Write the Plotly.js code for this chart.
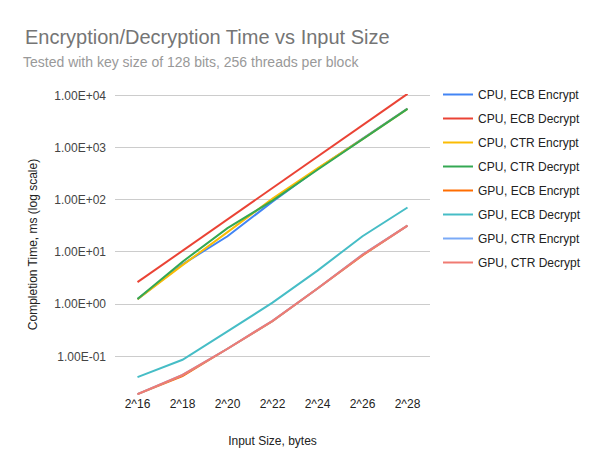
<!DOCTYPE html>
<html>
<head>
<meta charset="utf-8">
<script src="https://cdn.plot.ly/plotly-3.0.1.min.js"></script>
<style>html,body{margin:0;padding:0;background:#fff;}#chart{width:600px;height:471px;}</style>
</head>
<body>
<div id="chart"></div>
<script>
// Categories (input sizes)
var inputSizes = ['2^16', '2^18', '2^20', '2^22', '2^24', '2^26', '2^28'];

// Series values (completion time, ms)
var cpuEcbEncrypt = [1.25, 5.8, 20, 92, 390, 1450, 5600];
var cpuEcbDecrypt = [2.64, 10.5, 42, 167, 680, 2700, 10700];
var cpuCtrEncrypt = [1.24, 5.6, 24, 105, 400, 1450, 5500];
var cpuCtrDecrypt = [1.26, 6.5, 28.6, 96, 375, 1420, 5500];
var gpuEcbEncrypt = [0.0189, 0.042, 0.14, 0.47, 2.0, 8.6, 32];
var gpuEcbDecrypt = [0.040, 0.086, 0.30, 1.07, 4.4, 20, 71];
var gpuCtrEncrypt = [0.0189, 0.044, 0.14, 0.48, 2.0, 8.9, 32];
var gpuCtrDecrypt = [0.0189, 0.044, 0.14, 0.48, 2.0, 8.8, 32];

var seriesNames = ['CPU, ECB Encrypt', 'CPU, ECB Decrypt', 'CPU, CTR Encrypt', 'CPU, CTR Decrypt',
                   'GPU, ECB Encrypt', 'GPU, ECB Decrypt', 'GPU, CTR Encrypt', 'GPU, CTR Decrypt'];

// Y tick labels
var yTickVals = [0.1, 1, 10, 100, 1000, 10000];
var yTickText = ['1.00E-01', '1.00E+00', '1.00E+01', '1.00E+02', '1.00E+03', '1.00E+04'];

var seriesValues = [cpuEcbEncrypt, cpuEcbDecrypt, cpuCtrEncrypt, cpuCtrDecrypt,
                    gpuEcbEncrypt, gpuEcbDecrypt, gpuCtrEncrypt, gpuCtrDecrypt];
var colors = ['#4285F4', '#EA4335', '#FBBC04', '#34A853', '#FF6D01', '#46BDC6', '#7BAAF7', '#F07B72'];

var FONT = 'Arial, "Liberation Sans", sans-serif';

var traces = seriesValues.map(function (vals, i) {
  return {
    type: 'scatter',
    mode: 'lines',
    x: inputSizes,
    y: vals,
    name: seriesNames[i],
    legendgroup: 'g' + i,
    line: {color: colors[i], width: 2},
    hoverinfo: 'x+y+name'
  };
});

var layout = {
  width: 600,
  height: 471,
  paper_bgcolor: '#ffffff',
  plot_bgcolor: '#ffffff',
  margin: {l: 115, r: 170, t: 94, b: 76, pad: 0},
  font: {family: FONT, size: 12, color: '#222222'},
  title: {
    text: 'Encryption/Decryption Time vs Input Size',
    font: {family: FONT, size: 20, color: '#757575'},
    xref: 'container', yref: 'container',
    x: 25 / 600, xanchor: 'left',
    y: 1 - 37 / 471, yanchor: 'middle'
  },
  annotations: [{
    text: 'Tested with key size of 128 bits, 256 threads per block',
    xref: 'paper', yref: 'paper',
    x: (21 - 115) / 315, xanchor: 'left',
    y: (395 - 62) / 301, yanchor: 'middle',
    showarrow: false,
    font: {family: FONT, size: 14, color: '#999999'}
  }],
  xaxis: {
    type: 'category',
    range: [-0.5, 6.5],
    showgrid: false,
    zeroline: false,
    showline: false,
    ticks: '',
    tickfont: {family: FONT, size: 12, color: '#222222'},
    title: {text: 'Input Size, bytes', font: {family: FONT, size: 12, color: '#222222'}, standoff: 26}
  },
  yaxis: {
    type: 'log',
    range: [-1.74, 4.026],
    tickvals: yTickVals,
    ticktext: yTickText,
    showgrid: true,
    gridcolor: '#cccccc',
    gridwidth: 1,
    zeroline: false,
    showline: false,
    ticks: '',
    ticklabelstandoff: 8,
    tickfont: {family: FONT, size: 12, color: '#444444'},
    title: {text: 'Completion Time, ms (log scale)', font: {family: FONT, size: 12, color: '#222222'}, standoff: 14}
  },
  showlegend: true,
  legend: {
    x: (438 - 115) / 315, xanchor: 'left',
    y: 1 + 14 / 301, yanchor: 'top',
    traceorder: 'grouped',
    tracegroupgap: 5,
    itemwidth: 30,
    font: {family: FONT, size: 12, color: '#222222'},
    bgcolor: 'rgba(0,0,0,0)'
  }
};

Plotly.newPlot('chart', traces, layout, {displayModeBar: false, responsive: false});
</script>
</body>
</html>
